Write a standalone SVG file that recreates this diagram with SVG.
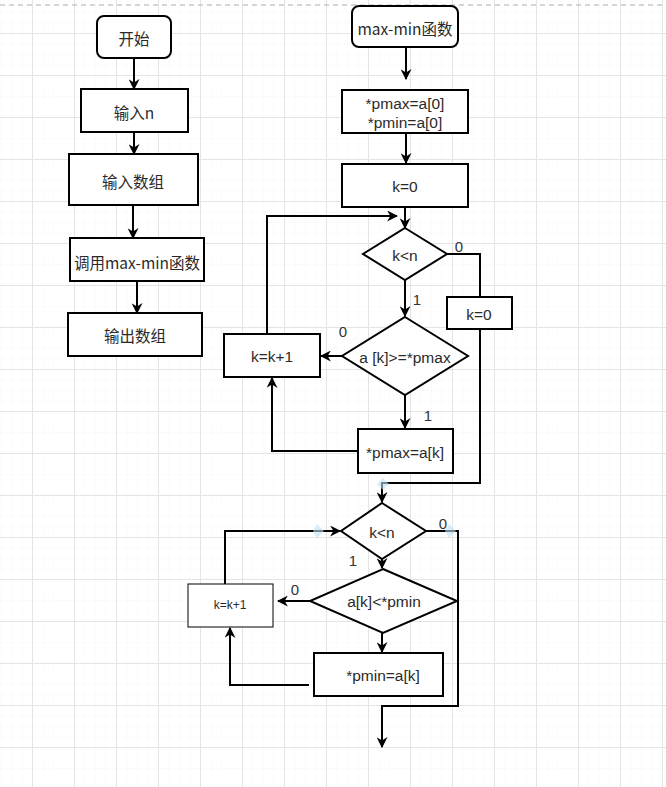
<svg xmlns="http://www.w3.org/2000/svg" width="666" height="787" viewBox="0 0 666 787">
<defs>
<pattern id="minor" x="-10" y="-9" width="10.5" height="10.5" patternUnits="userSpaceOnUse">
<path d="M0,0 V10.5 M0,0 H10.5" fill="none" stroke="#f7f7f7" stroke-width="1"/>
</pattern>
<pattern id="major" x="-10" y="-9" width="42" height="42" patternUnits="userSpaceOnUse">
<path d="M0.5,0 V42 M0,0.5 H42" fill="none" stroke="#e4e4e4" stroke-width="1"/>
</pattern>
<marker id="arr" viewBox="0 0 10 10" refX="9" refY="5" markerWidth="11" markerHeight="11" markerUnits="userSpaceOnUse" orient="auto">
<path d="M0,0 L10,5 L0,10 L3,5 z" fill="#000"/>
</marker>
<style>
.box{fill:#fff;stroke:#000;stroke-width:2}
.thin{fill:#fff;stroke:#000;stroke-width:1}
.t{font-family:"Liberation Sans","Noto Sans CJK SC",sans-serif;font-size:15.5px;fill:#2a2a2a;text-anchor:middle;dominant-baseline:central}
.cn{font-family:"Noto Sans CJK SC","Liberation Sans",sans-serif;font-size:15.5px}
.lbl{font-family:"Liberation Sans",sans-serif;font-size:15px;fill:#333;text-anchor:middle;dominant-baseline:central}
.c{fill:none;stroke:#000;stroke-width:2}
.hl{fill:#bfe1f5;opacity:0.6}
</style>
</defs>
<rect width="666" height="787" fill="#fff"/>
<rect width="666" height="787" fill="url(#minor)"/>
<rect width="666" height="787" fill="url(#major)"/>
<line x1="0" y1="5" x2="666" y2="5" stroke="#c8c8c8" stroke-width="1.5" stroke-dasharray="5,4"/>

<g id="connectors">
<line class="c" x1="134" y1="58" x2="134" y2="89" marker-end="url(#arr)"/>
<line class="c" x1="134" y1="132" x2="134" y2="154" marker-end="url(#arr)"/>
<line class="c" x1="133" y1="205" x2="133" y2="238" marker-end="url(#arr)"/>
<line class="c" x1="137" y1="281" x2="137" y2="313" marker-end="url(#arr)"/>

<line class="c" x1="406" y1="47" x2="406" y2="79" marker-end="url(#arr)"/>
<line class="c" x1="406" y1="133" x2="406" y2="163" marker-end="url(#arr)"/>
<line class="c" x1="405" y1="207" x2="405" y2="228" marker-end="url(#arr)"/>
<line class="c" x1="405" y1="280" x2="405" y2="316" marker-end="url(#arr)"/>
<line class="c" x1="342" y1="356" x2="321" y2="356" marker-end="url(#arr)"/>
<line class="c" x1="405" y1="395" x2="405" y2="428" marker-end="url(#arr)"/>
<path class="c" d="M358,451 H272 V378" marker-end="url(#arr)"/>
<path class="c" d="M267,334 V216 H397" marker-end="url(#arr)"/>
<path class="c" d="M447,254 H480 V297"/>
<path class="c" d="M480,329 V483 H382 V502" marker-end="url(#arr)"/>

<line class="c" x1="382" y1="559" x2="382" y2="568" marker-end="url(#arr)"/>
<line class="c" x1="310" y1="601" x2="278" y2="601" marker-end="url(#arr)"/>
<line class="c" x1="382" y1="633" x2="382" y2="652" marker-end="url(#arr)"/>
<path class="c" d="M309,685 H230 V628" marker-end="url(#arr)"/>
<path class="c" d="M225,584 V531 H340" marker-end="url(#arr)"/>
<path class="c" d="M426,531 H458 V706 H382 V747" marker-end="url(#arr)"/>

<text class="lbl" x="459" y="246">0</text>
<text class="lbl" x="417" y="299">1</text>
<text class="lbl" x="343" y="331">0</text>
<text class="lbl" x="428" y="415">1</text>
<text class="lbl" x="443" y="523">0</text>
<text class="lbl" x="353" y="560">1</text>
<text class="lbl" x="295" y="589">0</text>

<path class="hl" d="M383,478 L389,484 L383,490 L377,484 z"/>
<path class="hl" d="M317,524 L324,531 L317,538 L313,531 z"/>
<path class="hl" d="M449,524 L456,531 L449,538 L445,531 z"/>
</g>

<g id="start"><rect class="box" x="97" y="16" width="74" height="42" rx="7"/><text class="t cn" x="134" y="38">开始</text></g>
<g id="input-n"><rect class="box" x="81" y="89" width="107" height="43"/><text class="t cn" x="134" y="112">输入n</text></g>
<g id="input-array"><rect class="box" x="69" y="154" width="129" height="51"/><text class="t cn" x="133" y="181">输入数组</text></g>
<g id="call"><rect class="box" x="70" y="238" width="134" height="43"/><text class="t cn" x="137" y="262">调用max-min函数</text></g>
<g id="output"><rect class="box" x="68" y="313" width="134" height="43"/><text class="t cn" x="135" y="335">输出数组</text></g>

<g id="func"><rect class="box" x="352" y="6" width="106" height="41" rx="7"/><text class="t cn" x="405" y="28">max-min函数</text></g>
<g id="init"><rect class="box" x="342" y="90" width="126" height="43"/><text class="t" x="405" y="103">*pmax=a[0]</text><text class="t" x="405" y="122">*pmin=a[0]</text></g>
<g id="k0"><rect class="box" x="342" y="164" width="126" height="43"/><text class="t" x="405" y="186">k=0</text></g>
<g id="cond1"><path class="box" d="M405,228 L447,254 L405,280 L363,254 z"/><text class="t" x="405" y="255">k&lt;n</text></g>
<g id="cond-max"><path class="box" d="M405,317 L468,356 L405,395 L342,356 z"/><text class="t" x="405" y="357">a [k]&gt;=*pmax</text></g>
<g id="inc1"><rect class="box" x="224" y="334" width="96" height="43"/><text class="t" x="272" y="356">k=k+1</text></g>
<g id="setmax"><rect class="box" x="358" y="429" width="95" height="44"/><text class="t" x="405" y="452">*pmax=a[k]</text></g>
<g id="reset-k"><rect class="box" x="447" y="297" width="65" height="32"/><text class="t" x="479" y="314">k=0</text></g>
<g id="cond2"><path class="box" d="M382,503 L426,531 L382,559 L341,531 z"/><text class="t" x="382" y="532">k&lt;n</text></g>
<g id="cond-min"><path class="box" d="M383,569 L457,601 L383,633 L310,601 z"/><text class="t" x="384" y="601">a[k]&lt;*pmin</text></g>
<g id="inc2"><rect class="thin" x="188" y="584" width="85" height="43"/><text class="t" x="230" y="605" style="font-size:12px">k=k+1</text></g>
<g id="setmin"><rect class="box" x="314" y="653" width="129" height="43"/><text class="t" x="383" y="675">*pmin=a[k]</text></g>
</svg>
